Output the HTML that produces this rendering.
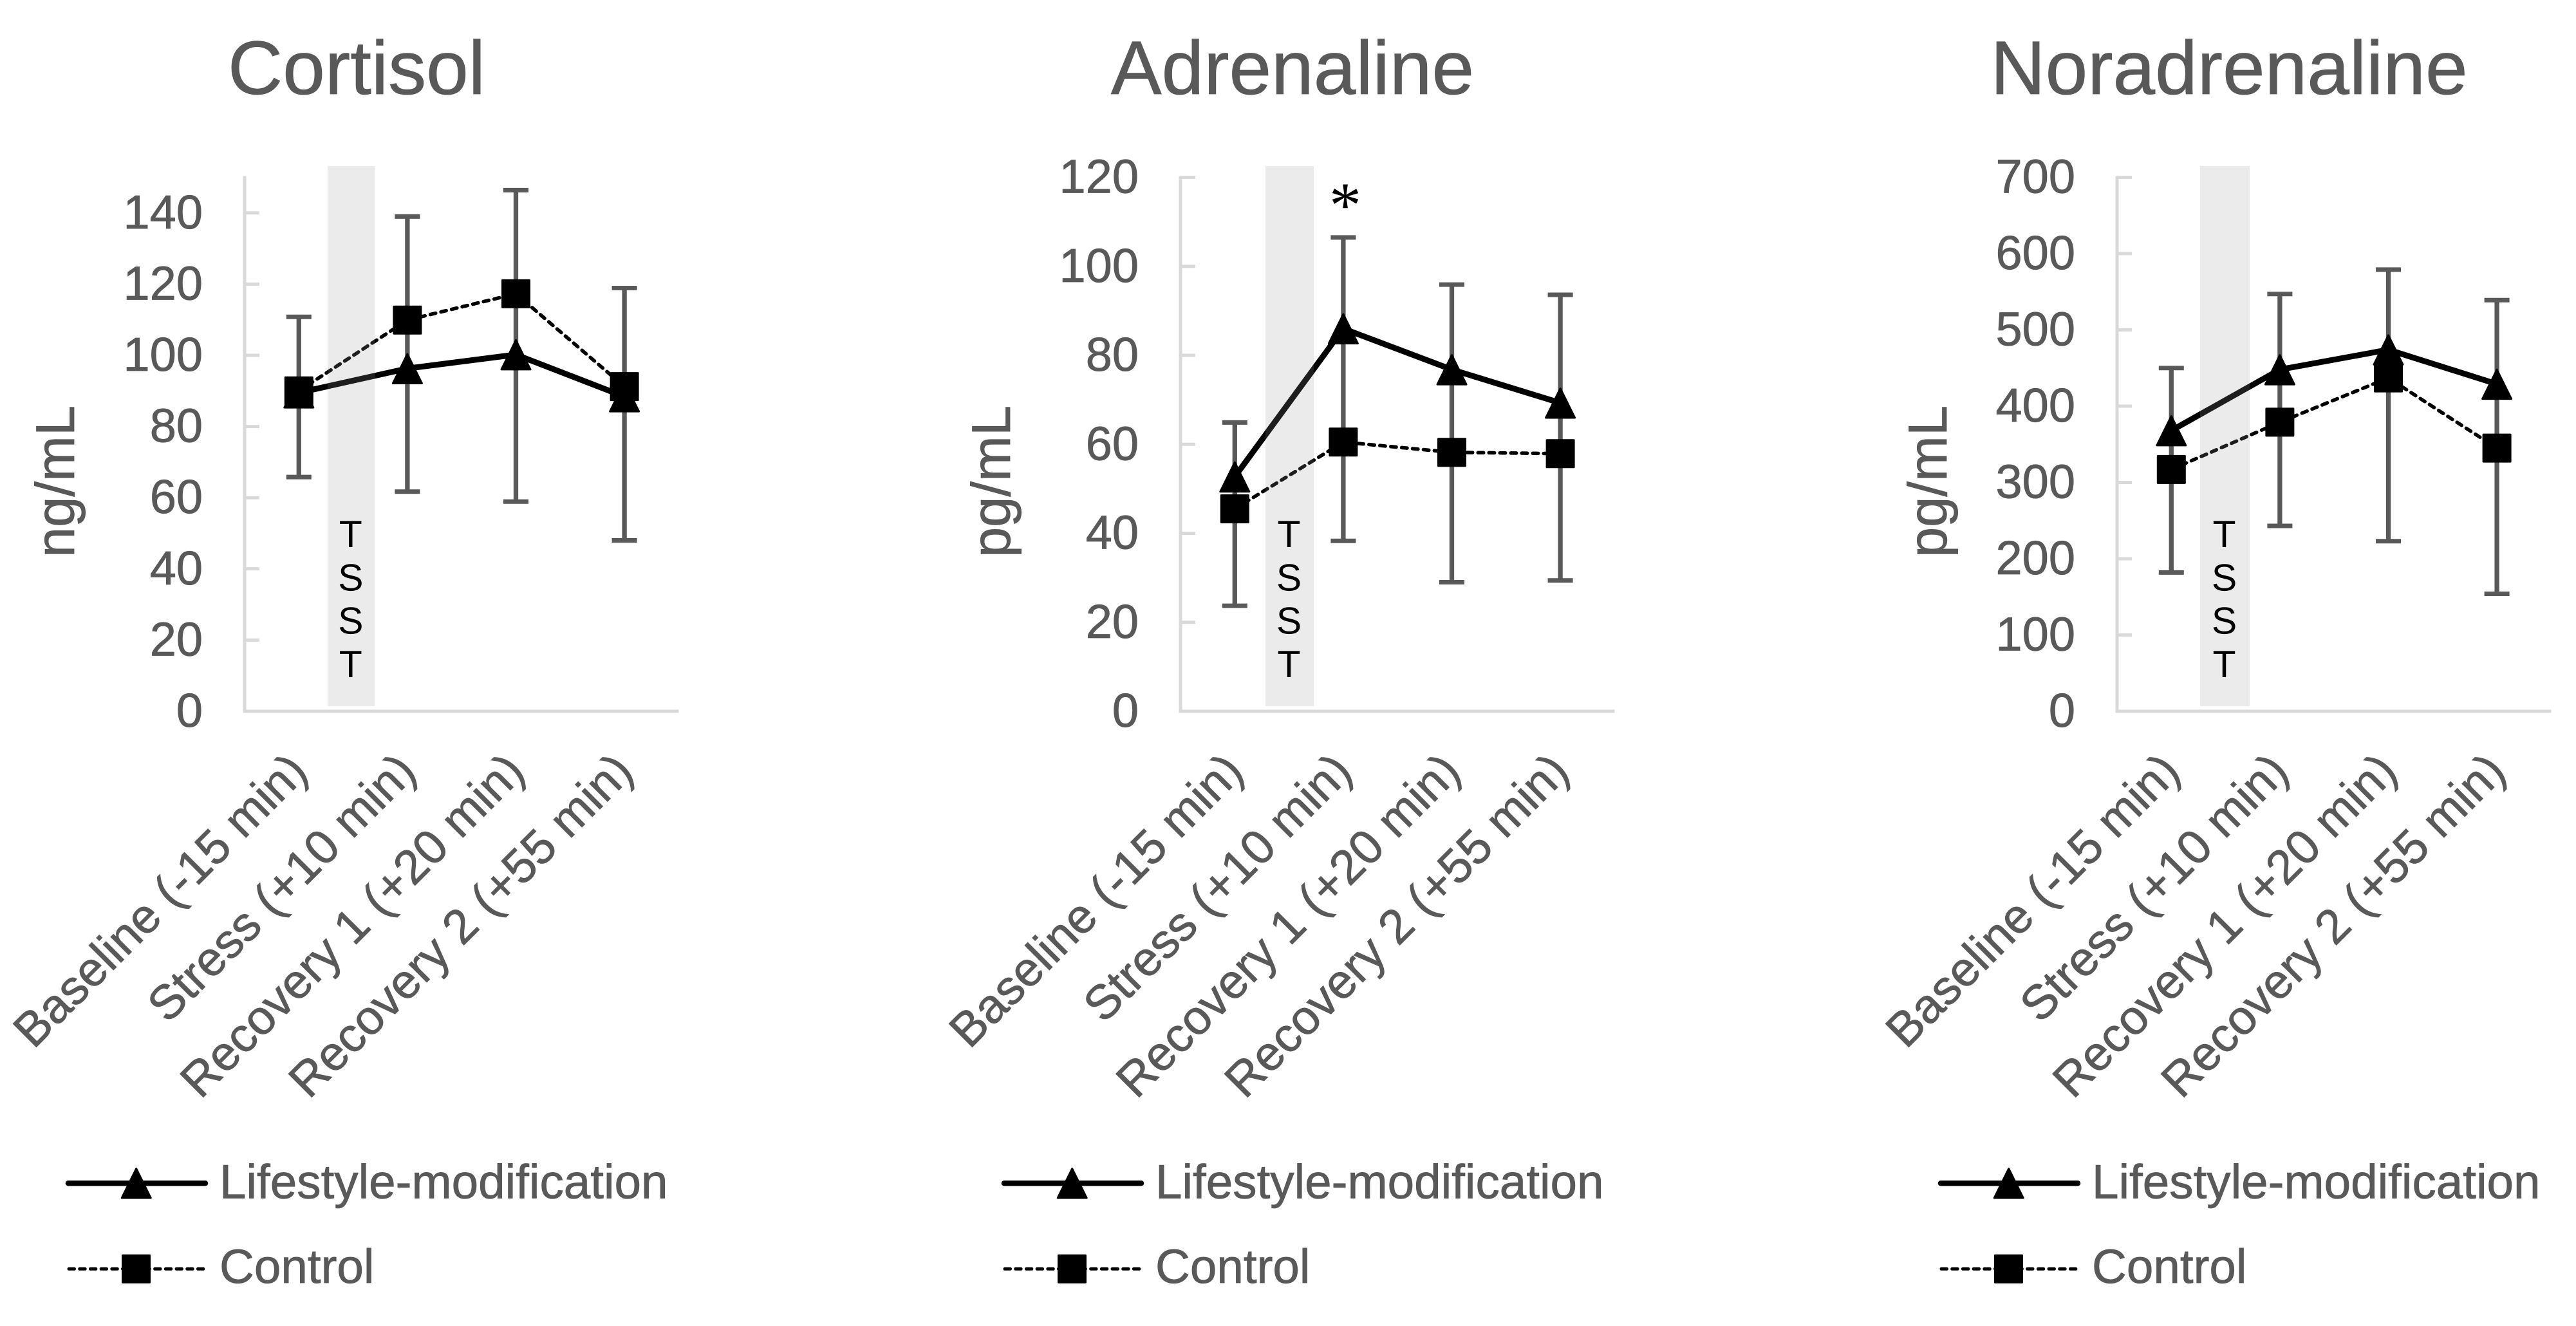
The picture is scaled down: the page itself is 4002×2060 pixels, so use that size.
<!DOCTYPE html>
<html lang="en">
<head>
<meta charset="utf-8">
<title>Cortisol, adrenaline and noradrenaline responses</title>
<style>
html,body{margin:0;padding:0;background:#fff;}
body{width:4002px;height:2060px;overflow:hidden;}
svg{display:block;font-family:"Liberation Sans",Arial,sans-serif;text-rendering:geometricPrecision;}
</style>
</head>
<body>
<svg id="figure" xmlns="http://www.w3.org/2000/svg" width="4002" height="2060" viewBox="0 0 4002 2060">
<rect x="0" y="0" width="4002" height="2060" fill="#ffffff"/>
</svg>
<script>
const categories = ['Baseline (-15 min)', 'Stress (+10 min)', 'Recovery 1 (+20 min)', 'Recovery 2 (+55 min)'];
const seriesNames = ['Lifestyle-modification', 'Control'];
const bandLetters = ['T', 'S', 'S', 'T'];

const cortisolTicks = [0, 20, 40, 60, 80, 100, 120, 140];
const cortisolLifestyle = [89.5, 96.3, 100.2, 88.4];
const cortisolControl = [90, 109.9, 117.3, 91.2];
const cortisolErrorHigh = [110.8, 139, 146.4, 118.9];
const cortisolErrorLow = [65.8, 61.7, 58.9, 48];

const adrenalineTicks = [0, 20, 40, 60, 80, 100, 120];
const adrenalineLifestyle = [52.7, 86, 76.8, 69.3];
const adrenalineControl = [45.5, 60.5, 58.2, 57.9];
const adrenalineErrorHigh = [64.9, 106.5, 95.9, 93.6];
const adrenalineErrorLow = [23.7, 38.3, 29, 29.4];

const noradrenalineTicks = [0, 100, 200, 300, 400, 500, 600, 700];
const noradrenalineLifestyle = [368, 448, 474, 429];
const noradrenalineControl = [317, 379, 437, 345];
const noradrenalineErrorHigh = [450, 547, 579, 539];
const noradrenalineErrorLow = [182, 243, 223, 154];

const BASELINE_Y = 1105;
const PLOT_HEIGHT = 829.5;
const CATEGORY_WIDTH = 168.6;
const GREY_TEXT = '#595959';
const AXIS_GREY = '#d9d9d9';
const svg = document.getElementById('figure');

function make(tag, parent, attrs, text) {
  const el = document.createElementNS('http://www.w3.org/2000/svg', tag);
  for (const k in attrs) el.setAttribute(k, attrs[k]);
  if (text !== undefined) el.textContent = text;
  parent.appendChild(el);
  return el;
}
function xScale(index, left) { return left + (index + 0.5) * CATEGORY_WIDTH; }
function yScale(value, axisMax) { return BASELINE_Y - value / axisMax * PLOT_HEIGHT; }
function linePoints(values, left, axisMax) {
  return values.map((v, i) => xScale(i, left) + ',' + yScale(v, axisMax)).join(' ');
}
function trianglePoints(cx, cy) {
  return cx + ',' + (cy - 22.5) + ' ' + (cx + 22.5) + ',' + (cy + 23) + ' ' + (cx - 22.5) + ',' + (cy + 23);
}

function drawPanel(p) {
  const g = make('g', svg, {});
  
  

  const title = make('text', g, {x: p.left + 174, y: 146, 'text-anchor': 'middle', 'font-size': 118, fill: GREY_TEXT, stroke: GREY_TEXT, 'stroke-width': 0.8}, p.title);
  
  

  const yTitle = make('text', g, {transform: 'translate(' + (p.left - 265) + ' 748) rotate(-90)', 'text-anchor': 'middle', 'font-size': 85, fill: GREY_TEXT, stroke: GREY_TEXT, 'stroke-width': 0.8}, p.unit);
  
  

  const yAxis = make('line', g, {x1: p.left, x2: p.left, y1: yScale(p.axisMax, p.axisMax) - 2, y2: BASELINE_Y + 2.5, stroke: AXIS_GREY, 'stroke-width': 5});
  
  

  const xAxis = make('line', g, {x1: p.left - 2.5, x2: p.left + 4 * CATEGORY_WIDTH, y1: BASELINE_Y, y2: BASELINE_Y, stroke: AXIS_GREY, 'stroke-width': 5});
  
  

  p.ticks.forEach(tick => {
    const y = yScale(tick, p.axisMax);
    if (tick > 0) {
      const mark = make('line', g, {x1: p.left, x2: p.left + 23, y1: y, y2: y, stroke: AXIS_GREY, 'stroke-width': 5});
      
      
    }
    const label = make('text', g, {x: p.left - 65, y: y + 24, 'text-anchor': 'end', 'font-size': 74, fill: GREY_TEXT, stroke: GREY_TEXT, 'stroke-width': 0.8}, tick);
    
    
  });

  categories.forEach((name, i) => {
    const ax = xScale(i, p.left) + 17;
    const label = make('text', g, {transform: 'translate(' + ax + ' 1202) rotate(-45)', 'text-anchor': 'end', 'font-size': 74.8, fill: GREY_TEXT, stroke: GREY_TEXT, 'stroke-width': 0.8}, name);
    
    
  });

  categories.forEach((name, i) => {
    const x = xScale(i, p.left);
    const hi = yScale(p.errorHigh[i], p.axisMax);
    const lo = yScale(p.errorLow[i], p.axisMax);
    const stem = make('line', g, {x1: x, x2: x, y1: hi, y2: lo, stroke: GREY_TEXT, 'stroke-width': 7.3});
    
    
    const capTop = make('line', g, {x1: x - 19.5, x2: x + 19.5, y1: hi, y2: hi, stroke: GREY_TEXT, 'stroke-width': 7});
    
    
    const capLow = make('line', g, {x1: x - 19.5, x2: x + 19.5, y1: lo, y2: lo, stroke: GREY_TEXT, 'stroke-width': 7});
    
    
  });

  const lifeLine = make('polyline', g, {points: linePoints(p.lifestyle, p.left, p.axisMax), fill: 'none', stroke: '#000000', 'stroke-width': 9, 'stroke-linejoin': 'round'});
  
  

  const controlLine = make('polyline', g, {points: linePoints(p.control, p.left, p.axisMax), fill: 'none', stroke: '#000000', 'stroke-width': 5.5, 'stroke-dasharray': '8.5 8.5', 'stroke-linecap': 'round'});
  
  

  const band = make('rect', g, {x: p.left + p.bandStart, y: 258, width: p.bandWidth, height: 839, fill: '#999999', 'fill-opacity': 0.196});
  
  

  bandLetters.forEach((letter, i) => {
    const t = make('text', g, {x: p.left + p.bandStart + p.bandWidth / 2 - 1, y: 850 + i * 67.3, 'text-anchor': 'middle', 'font-size': 59, fill: '#000000'}, letter);
    
    
  });

  p.lifestyle.forEach((v, i) => {
    const tri = make('polygon', g, {points: trianglePoints(xScale(i, p.left), yScale(v, p.axisMax)), fill: '#000000', stroke: '#000000', 'stroke-width': 3, 'stroke-linejoin': 'round'});
    
    
  });
  p.control.forEach((v, i) => {
    const sq = make('rect', g, {x: xScale(i, p.left) - 21, y: yScale(v, p.axisMax) - 21, width: 42, height: 42, fill: '#000000', stroke: '#000000', 'stroke-width': 3, 'stroke-linejoin': 'round'});
    
    
  });

  const legendX = p.left - 277;
  const legendLife = make('g', g, {});
  
  
  const lifeKey = make('line', legendLife, {x1: legendX + 3, x2: legendX + 216, y1: 1838.3, y2: 1838.3, stroke: '#000000', 'stroke-width': 8.5, 'stroke-linecap': 'round'});
  
  
  const lifeMarker = make('polygon', legendLife, {points: trianglePoints(legendX + 108.7, 1838), fill: '#000000', stroke: '#000000', 'stroke-width': 3, 'stroke-linejoin': 'round'});
  
  
  const lifeLabel = make('text', legendLife, {x: legendX + 238, y: 1861.5, 'font-size': 74.6, fill: GREY_TEXT, stroke: GREY_TEXT, 'stroke-width': 0.8}, seriesNames[0]);
  
  

  const legendCtrl = make('g', g, {});
  
  
  const ctrlKey = make('line', legendCtrl, {x1: legendX + 4, x2: legendX + 214, y1: 1971.3, y2: 1971.3, stroke: '#000000', 'stroke-width': 5, 'stroke-dasharray': '8.5 8.2', 'stroke-linecap': 'round'});
  
  
  const ctrlMarker = make('rect', legendCtrl, {x: legendX + 87.5, y: 1950.3, width: 42, height: 42, fill: '#000000', stroke: '#000000', 'stroke-width': 3, 'stroke-linejoin': 'round'});
  
  
  const ctrlLabel = make('text', legendCtrl, {x: legendX + 238, y: 1993, 'font-size': 74.6, fill: GREY_TEXT, stroke: GREY_TEXT, 'stroke-width': 0.8}, seriesNames[1]);
  
  
}

drawPanel({key: 'cortisol', title: 'Cortisol', unit: 'ng/mL', left: 380, axisMax: 150, bandStart: 129, bandWidth: 73.5, ticks: cortisolTicks, lifestyle: cortisolLifestyle, control: cortisolControl, errorHigh: cortisolErrorHigh, errorLow: cortisolErrorLow});
drawPanel({key: 'adrenaline', title: 'Adrenaline', unit: 'pg/mL', left: 1834, axisMax: 120, bandStart: 132, bandWidth: 75, ticks: adrenalineTicks, lifestyle: adrenalineLifestyle, control: adrenalineControl, errorHigh: adrenalineErrorHigh, errorLow: adrenalineErrorLow});
drawPanel({key: 'noradrenaline', title: 'Noradrenaline', unit: 'pg/mL', left: 3289, axisMax: 700, bandStart: 129, bandWidth: 77, ticks: noradrenalineTicks, lifestyle: noradrenalineLifestyle, control: noradrenalineControl, errorHigh: noradrenalineErrorHigh, errorLow: noradrenalineErrorLow});

const asterisk = make('text', svg, {x: 2090, y: 352, 'text-anchor': 'middle', 'font-size': 100, fill: '#000000', 'font-family': '"Liberation Serif", serif'}, '*');


</script>
</body>
</html>
